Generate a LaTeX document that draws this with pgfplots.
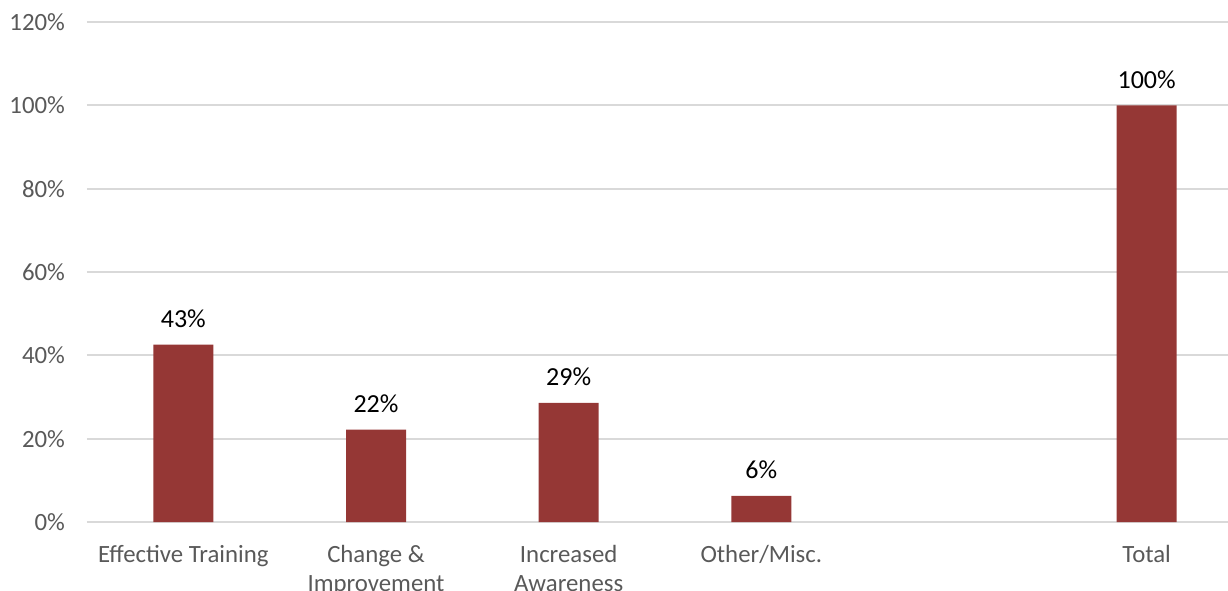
\documentclass[border=0pt]{standalone}
\usepackage{pgfplots}
\pgfplotsset{compat=1.18}
\usepackage{fontspec}
\setmainfont{Carlito}
\definecolor{barred}{HTML}{953735}
\definecolor{gridgray}{HTML}{D9D9D9}
\definecolor{ticktext}{HTML}{595959}
\begin{document}
\begin{tikzpicture}
\begin{axis}[
  at={(43.5pt,34pt)}, anchor=south west,
  width=578pt, height=250pt, scale only axis,
  xmin=-0.5, xmax=5.5, ymin=0, ymax=120,
  ytick={0,20,...,120},
  yticklabel={\pgfmathprintnumber{\tick}\%},
  /pgf/number format/assume math mode=true,
  ymajorgrids, major grid style={gridgray, line width=0.9pt},
  axis x line*=bottom, axis y line*=left,
  y axis line style={draw=none},
  x axis line style={gridgray, line width=0.9pt, -},
  tick style={draw=none},
  xtick={0,...,5},
  xticklabels={Effective Training, {Change \&\\Improvement}, {Increased\\Awareness}, Other/Misc., {}, Total},
  xticklabel style={align=center, font=\fontsize{12.4}{14.5}\selectfont, text=ticktext, yshift=-4pt},
  yticklabel style={font=\fontsize{12.4}{14.5}\selectfont, text=ticktext, xshift=-7.5pt},
  ybar, bar width=30pt,
  point meta=explicit symbolic,
  nodes near coords={\pgfplotspointmeta\%},
  every node near coord/.append style={font=\fontsize{13}{15}\selectfont, text=black, anchor=south, yshift=5pt},
]
\addplot[fill=barred, draw=none] coordinates {
  (0,42.6)[43]
  (1,22.2)[22]
  (2,28.6)[29]
  (3,6.3)[6]
  (5,100)[100]
};
\end{axis}
\pgfresetboundingbox
\useasboundingbox (0,0) rectangle (614pt,295pt);
\end{tikzpicture}
\end{document}
